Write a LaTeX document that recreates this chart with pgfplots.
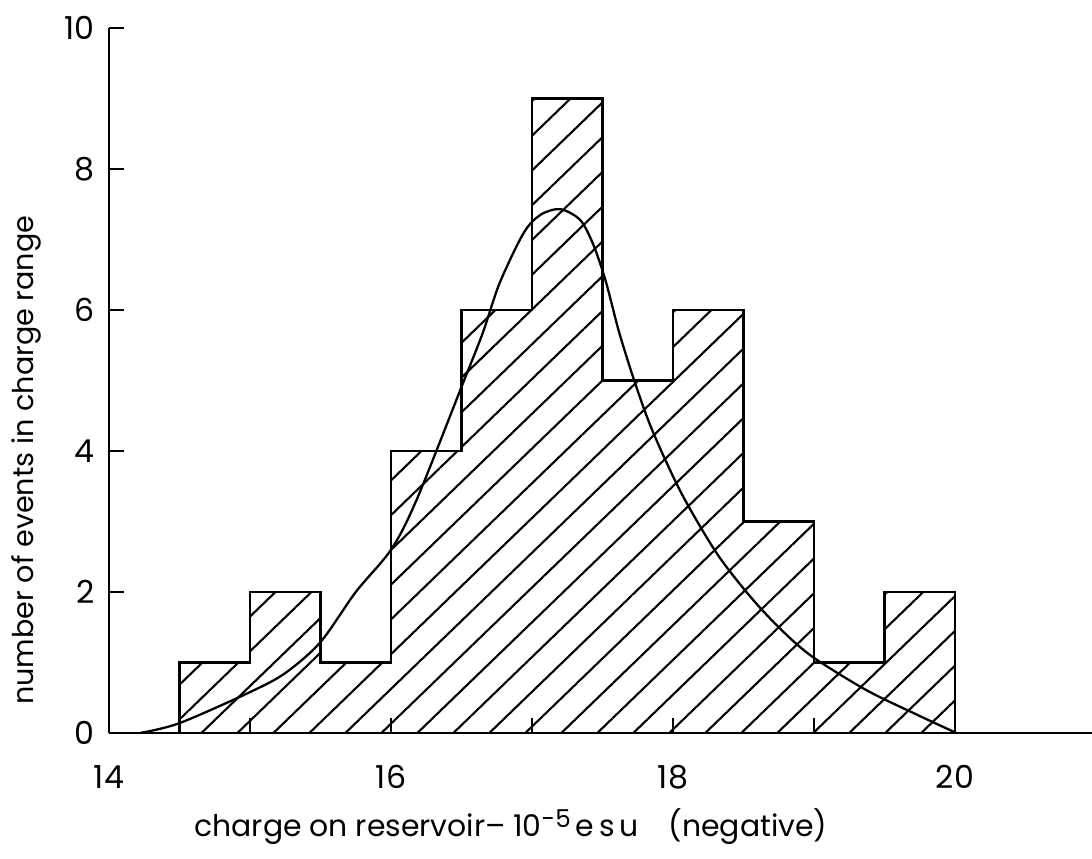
\documentclass[border=0pt]{standalone}
\usepackage{fontspec}
\setmainfont{Poppins}
\usepackage{pgfplots}
\pgfplotsset{compat=1.18}
\usetikzlibrary{patterns.meta}
\begin{document}
\begin{tikzpicture}
\begin{axis}[
  at={(2.18cm,2.5cm)}, anchor=south west,
  x=2.82cm, y=1.41cm,
  xmin=14, xmax=20.97, ymin=0, ymax=10,
  axis lines*=left,
  axis line style={line width=1.4pt, black},
  xtick={14,15,16,17,18,19,20},
  xticklabels={14,,16,,18,,20},
  ytick={0,2,4,6,8,10},
  yticklabels={0,2,4,6,8,10},
  tick align=inside,
  major tick length=0.3cm,
  tick style={line width=1.2pt, black},
  /pgf/number format/assume math mode=true,
  ticklabel style={font=\fontsize{18}{20}\selectfont},
  xticklabel style={anchor=base, yshift=-1.1cm},
  yticklabel style={anchor=east, xshift=-0.17cm},
  xlabel={charge on reservoir-- 10\raisebox{0.55ex}{\fontsize{14}{16}\selectfont -5}\,e\,s\,u\quad (negative)},
  ylabel={number of events in charge range},
  xlabel style={font=\fontsize{17}{19}\selectfont, at={(axis description cs:0.409,-0.1475)}, anchor=base},
  ylabel style={font=\fontsize{16.3}{18}\selectfont, at={(axis description cs:-0.084,0.387)}, anchor=center, rotate=0},
  clip=false,
]
\addplot[draw=black, line width=1.5pt, pattern={Lines[angle=44, distance=0.5cm, line width=1.2pt]}, const plot mark left]
  coordinates {(14.5,0) (14.5,1) (15,2) (15.5,1) (16,4) (16.5,6) (17,9) (17.5,5) (18,6) (18.5,3) (19,1) (19.5,2) (20,2) (20,0)} -- cycle;
\addplot[black, line width=1.3pt, smooth, tension=0.5] coordinates {
(14.22,0) (14.5,0.14) (15,0.58) (15.25,0.85) (15.5,1.29) (15.75,2.0) (16,2.6) (16.18,3.3) (16.51,4.96) (16.65,5.67) (16.77,6.38) (16.94,7.09) (17.06,7.35) (17.2,7.43) (17.34,7.28) (17.43,6.95) (17.52,6.43) (17.62,5.67) (17.74,4.91) (17.86,4.26) (18.06,3.4) (18.31,2.55) (18.55,1.93) (18.77,1.46) (18.99,1.08) (19.37,0.61) (19.73,0.26) (20.01,0)};
\end{axis}
\pgfresetboundingbox
\path[use as bounding box] (0,0) rectangle (21.84cm,17.16cm);
\end{tikzpicture}
\end{document}
